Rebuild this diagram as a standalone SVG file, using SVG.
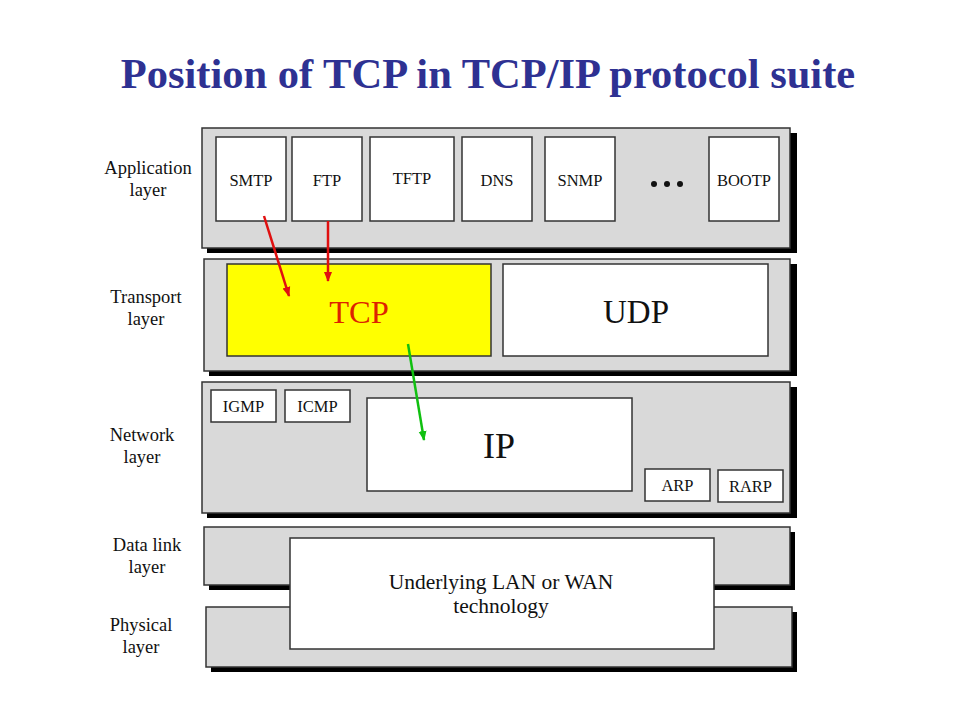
<svg xmlns="http://www.w3.org/2000/svg" width="960" height="720" viewBox="0 0 960 720">
<defs>
<style>
.layer{fill:#d9d9d9;stroke:#333;stroke-width:1.5}
.shadow{fill:#000}
.box{fill:#fff;stroke:#333;stroke-width:1.5}
.t{font-family:"Liberation Serif","Times New Roman",serif;fill:#111;text-anchor:middle}
.s{font-size:16.5px}
.lbl{font-size:18.5px}
</style>
<marker id="ar" markerWidth="10" markerHeight="10" refX="9" refY="5" orient="auto" markerUnits="userSpaceOnUse">
<path d="M0,1 L10,5 L0,9 z" fill="#e01010"/>
</marker>
<marker id="ag" markerWidth="10" markerHeight="10" refX="9" refY="5" orient="auto" markerUnits="userSpaceOnUse">
<path d="M0,1 L10,5 L0,9 z" fill="#10c010"/>
</marker>
</defs>
<rect width="960" height="720" fill="#fff"/>
<text x="488" y="88" font-family="Liberation Serif,'Times New Roman',serif" font-weight="bold" font-size="42.5" fill="#2e3192" text-anchor="middle">Position of TCP in TCP/IP protocol suite</text>

<g id="application">
<rect class="shadow" x="207" y="133" width="590" height="120"/>
<rect class="layer" x="202" y="128" width="588" height="120"/>
<text class="t lbl" x="148" y="174">Application</text>
<text class="t lbl" x="148" y="196">layer</text>
</g>
<g id="smtp"><rect class="box" x="216" y="137" width="70" height="84"/><text class="t s" x="251" y="186">SMTP</text></g>
<g id="ftp"><rect class="box" x="292" y="137" width="70" height="84"/><text class="t s" x="327" y="186">FTP</text></g>
<g id="tftp"><rect class="box" x="370" y="137" width="84" height="84"/><text class="t s" x="412" y="184">TFTP</text></g>
<g id="dns"><rect class="box" x="462" y="137" width="70" height="84"/><text class="t s" x="497" y="186">DNS</text></g>
<g id="snmp"><rect class="box" x="545" y="137" width="70" height="84"/><text class="t s" x="580" y="186">SNMP</text></g>
<g id="dots"><circle cx="654" cy="184" r="3" fill="#111"/><circle cx="667" cy="184" r="3" fill="#111"/><circle cx="680" cy="184" r="3" fill="#111"/></g>
<g id="bootp"><rect class="box" x="709" y="137" width="70" height="84"/><text class="t s" x="744" y="186">BOOTP</text></g>

<g id="transport">
<rect class="shadow" x="209" y="264" width="588" height="112"/>
<rect class="layer" x="204" y="259" width="586" height="112"/>
<text class="t lbl" x="146" y="303">Transport</text>
<text class="t lbl" x="146" y="325">layer</text>
</g>
<g id="tcp"><rect x="227" y="264" width="264" height="92" fill="#ffff00" stroke="#333" stroke-width="1.5"/><text class="t" x="359" y="323" font-size="32.5" style="fill:#dd2200">TCP</text></g>
<g id="udp"><rect class="box" x="503" y="264" width="265" height="92"/><text class="t" x="636" y="323" font-size="33">UDP</text></g>

<g id="network">
<rect class="shadow" x="207" y="387" width="590" height="131"/>
<rect class="layer" x="202" y="382" width="588" height="131"/>
<text class="t lbl" x="142" y="441">Network</text>
<text class="t lbl" x="142" y="463">layer</text>
</g>
<g id="igmp"><rect class="box" x="211" y="390" width="65" height="32"/><text class="t s" x="243.5" y="412">IGMP</text></g>
<g id="icmp"><rect class="box" x="285" y="390" width="65" height="32"/><text class="t s" x="317.5" y="412">ICMP</text></g>
<g id="ip"><rect class="box" x="367" y="398" width="265" height="93"/><text class="t" x="499" y="458" font-size="36">IP</text></g>
<g id="arp"><rect class="box" x="645" y="469" width="65" height="32"/><text class="t s" x="677.5" y="491">ARP</text></g>
<g id="rarp"><rect class="box" x="718" y="470" width="65" height="32"/><text class="t s" x="750.5" y="492">RARP</text></g>

<g id="datalink">
<rect class="shadow" x="209" y="532" width="586" height="58"/>
<rect class="layer" x="204" y="527" width="586" height="58"/>
<text class="t lbl" x="147" y="551">Data link</text>
<text class="t lbl" x="147" y="573">layer</text>
</g>
<g id="physical">
<rect class="shadow" x="211" y="612" width="586" height="60"/>
<rect class="layer" x="206" y="607" width="586" height="60"/>
<text class="t lbl" x="141" y="631">Physical</text>
<text class="t lbl" x="141" y="653">layer</text>
</g>
<g id="underlying"><rect class="box" x="290" y="538" width="424" height="111"/>
<text class="t" x="501" y="589" font-size="21.5">Underlying LAN or WAN</text>
<text class="t" x="501" y="613" font-size="21.5">technology</text></g>

<g id="connectors" fill="none" stroke-width="2.5">
<line x1="264" y1="216" x2="289" y2="296" stroke="#e01010" marker-end="url(#ar)"/>
<line x1="328" y1="221" x2="328" y2="281" stroke="#e01010" marker-end="url(#ar)"/>
<line x1="408" y1="344" x2="424" y2="440" stroke="#10c010" marker-end="url(#ag)"/>
</g>
</svg>
